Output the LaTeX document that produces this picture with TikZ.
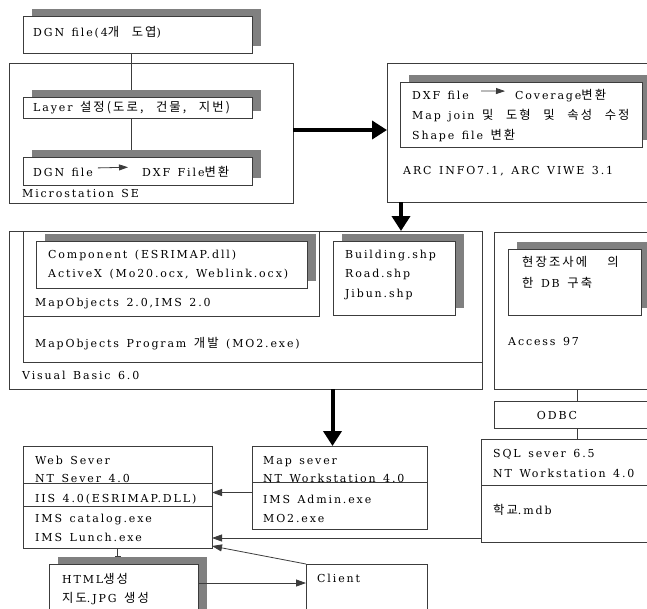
\documentclass[tikz,border=0pt]{standalone}
\usepackage{fontspec}
\setmainfont{DejaVu Serif}[LetterSpace=17, WordSpace=1.4]
\newfontfamily\kr{Noto Sans CJK KR}[Scale=1.12, LetterSpace=17, WordSpace=2.6]
\usetikzlibrary{arrows.meta, shadows, backgrounds}
\definecolor{shgray}{RGB}{128,128,128}
\definecolor{edge}{RGB}{60,60,60}

\begin{document}
\begin{tikzpicture}[x=1pt, y=-1pt,
    frame/.style={draw=edge, line width=0.8pt, inner sep=0pt, outer sep=0pt, anchor=north west},
    box/.style={frame, fill=white, drop shadow={shadow xshift=9pt, shadow yshift=7pt, fill=shgray, opacity=1}},
    txt/.style={font=\fontsize{11}{13}\selectfont, inner sep=0pt, anchor=base west},
    link/.style={draw=edge, line width=0.8pt},
    tip/.style={-{Triangle[width=7pt, length=10pt]}},
    bigarrow/.style={line width=4pt, -{Triangle[width=18pt, length=15pt]}}]
    \clip (0,0) rectangle (647,608);
    \useasboundingbox (0,0) rectangle (647,608);

    % frames
    \node[frame, minimum width=284pt, minimum height=140pt] at (9,63)   (msframe) {};
    \node[frame, minimum width=293pt, minimum height=139pt] at (387,63) (arcframe) {};
    \node[frame, minimum width=473pt, minimum height=158pt] at (9,231)  (vbframe) {};
    \node[frame, minimum width=459pt, minimum height=131pt] at (23,231) (progframe) {};
    \node[frame, minimum width=296pt, minimum height=85pt]  at (23,231) (moframe) {};
    \node[frame, minimum width=190pt, minimum height=157pt] at (494,232) (accframe) {};

    % shaded boxes
    \node[box, minimum width=229pt, minimum height=37pt] at (23,16)   (dgnbox) {};
    \node[box, minimum width=229pt, minimum height=21pt] at (23,97)   (layerbox) {};
    \node[box, minimum width=229pt, minimum height=28pt] at (23,157)  (convbox) {};
    \node[box, minimum width=242pt, minimum height=65pt] at (400,82)  (arcbox) {};
    \node[box, minimum width=271pt, minimum height=47pt] at (36,241)  (compbox) {};
    \node[box, minimum width=122pt, minimum height=74pt] at (333,241) (shpbox) {};
    \node[box, minimum width=133pt, minimum height=66pt] at (508,249) (accbox) {};
    \node[box, minimum width=149pt, minimum height=60pt] at (49,564)  (htmlbox) {};

    % plain boxes
    \node[frame, fill=white, minimum width=190pt, minimum height=27pt]  at (494,401) (odbcbox) {};
    \node[frame, fill=white, minimum width=200pt, minimum height=103pt] at (481,439) (sqlbox) {};
    \node[frame, fill=white, minimum width=175pt, minimum height=83pt]  at (252,446) (mapsrv) {};
    \node[frame, fill=white, minimum width=189pt, minimum height=102pt] at (23,446)  (websrv) {};
    \node[frame, fill=white, minimum width=121pt, minimum height=60pt]  at (306,564) (client) {};

    % dividers
    \draw[link] ([yshift=-37pt]websrv.north west) -- ([yshift=-37pt]websrv.north east);
    \draw[link] ([yshift=-60pt]websrv.north west) -- ([yshift=-60pt]websrv.north east);
    \draw[link] ([yshift=-36pt]mapsrv.north west) -- ([yshift=-36pt]mapsrv.north east);
    \draw[link] ([yshift=-46pt]sqlbox.north west) -- ([yshift=-46pt]sqlbox.north east);

    % texts
    \node[txt] at (33,36)  (dgntxt) {DGN file(4{\kr 개 도엽})};
    \node[txt] at (33,111) (layertxt) {Layer {\kr 설정(도로, 건물, 지번)}};
    \node[txt] at (33,176) (dgnfile) {DGN file};
    \node[txt] at (142,176) (dxffile) {DXF File{\kr 변환}};
    \node[txt] at (22,197) (mstxt) {Microstation SE};

    \node[txt] at (412,99)  (dxfin) {DXF file};
    \node[txt] at (515,99)  (covout) {Coverage{\kr 변환}};
    \node[txt] at (412,119) (jointxt) {Map join {\kr 및 도형 및 속성 수정}};
    \node[txt] at (412,139) (shptxt) {Shape file {\kr 변환}};
    \node[txt] at (403,174) (arctxt) {ARC INFO7.1, ARC VIWE 3.1};

    \node[txt] at (48,258)  (comptxt) {Component (ESRIMAP.dll)};
    \node[txt] at (48,277)  (acttxt) {ActiveX (Mo20.ocx, Weblink.ocx)};
    \node[txt] at (35,306)  (motxt) {MapObjects 2.0,IMS 2.0};
    \node[txt] at (35,347)  (progtxt) {MapObjects Program {\kr 개발} (MO2.exe)};
    \node[txt] at (22,379)  (vbtxt) {Visual Basic 6.0};
    \node[txt] at (345,258) (bldtxt) {Building.shp};
    \node[txt] at (345,277) (roadtxt) {Road.shp};
    \node[txt] at (345,297) (jibuntxt) {Jibun.shp};

    \node[txt] at (522,266) (surveytxt) {{\kr 현장조사에}\hspace{20pt}{\kr 의}};
    \node[txt] at (522,287) (dbtxt) {{\kr 한} DB {\kr 구축}};
    \node[txt] at (508,345) (acctxt) {Access 97};
    \node[txt, anchor=base] at (557,419) (odbctxt) {ODBC};

    \node[txt] at (493,457) (sqltxt) {SQL sever 6.5};
    \node[txt] at (493,477) (sqlnt) {NT Workstation 4.0};
    \node[txt] at (493,514) (mdbtxt) {{\kr 학교}.mdb};

    \node[txt] at (263,464) (maptxt) {Map sever};
    \node[txt] at (263,482) (mapnt) {NT Workstation 4.0};
    \node[txt] at (263,503) (admtxt) {IMS Admin.exe};
    \node[txt] at (263,522) (motwo) {MO2.exe};

    \node[txt] at (35,464) (webtxt) {Web Sever};
    \node[txt] at (35,482) (webnt) {NT Sever 4.0};
    \node[txt] at (35,502) (iistxt) {IIS 4.0(ESRIMAP.DLL)};
    \node[txt] at (35,522) (cattxt) {IMS catalog.exe};
    \node[txt] at (35,541) (lunchtxt) {IMS Lunch.exe};

    \node[txt] at (62,583) (htmltxt) {HTML{\kr 생성}};
    \node[txt] at (62,602) (jpgtxt) {{\kr 지도}.JPG {\kr 생성}};
    \node[txt] at (317,582) (clienttxt) {Client};

    % connectors
    \begin{scope}[on background layer]
        \fill[white] (0,0) rectangle (647,608);
        \draw[link] ([xshift=-6pt]dgnbox.south) -- ([xshift=-6pt]layerbox.north);
        \draw[link] ([xshift=-6pt]layerbox.south) -- ([xshift=-6pt]convbox.north);
        \draw[link] ([xshift=83pt]accframe.south west) -- ([xshift=83pt]odbcbox.north west);
        \draw[link] ([xshift=83pt]odbcbox.south west) -- ([xshift=96pt]sqlbox.north west);
    \end{scope}
    \draw[link, -{Triangle[width=6pt, length=9pt]}] ([yshift=4pt,xshift=5pt]dgnfile.east) -- ([yshift=4pt,xshift=-14pt]dxffile.west);
    \draw[link, -{Triangle[width=6pt, length=9pt]}] ([yshift=4pt,xshift=12pt]dxfin.east) -- ([yshift=4pt,xshift=-10pt]covout.west);

    \draw[bigarrow] ([yshift=3pt]msframe.east) -- ([yshift=3pt]msframe.east -| arcframe.west);
    \draw[bigarrow] ([xshift=14pt]arcframe.south west) -- ([xshift=14pt]arcframe.south west |- vbframe.north);
    \draw[bigarrow] ([xshift=-7pt]mapsrv.north |- vbframe.south) -- ([xshift=-7pt]mapsrv.north);

    \draw[link, tip] ([yshift=-5pt]mapsrv.west) -- ([yshift=-5pt]mapsrv.west -| websrv.east);
    \draw[link, tip] ([yshift=4pt]sqlbox.south west) -- ([yshift=4pt]sqlbox.south west -| websrv.east);
    \draw[link, tip] (client.north west) -- ([yshift=2pt]websrv.south east);
    \draw[link, tip] ([yshift=-19pt]htmlbox.north east) -- ([yshift=-19pt]htmlbox.north east -| client.west);
    \draw[link, -{Bar[width=6pt]}] (websrv.south) -- ++(0,9);
\end{tikzpicture}
\end{document}
